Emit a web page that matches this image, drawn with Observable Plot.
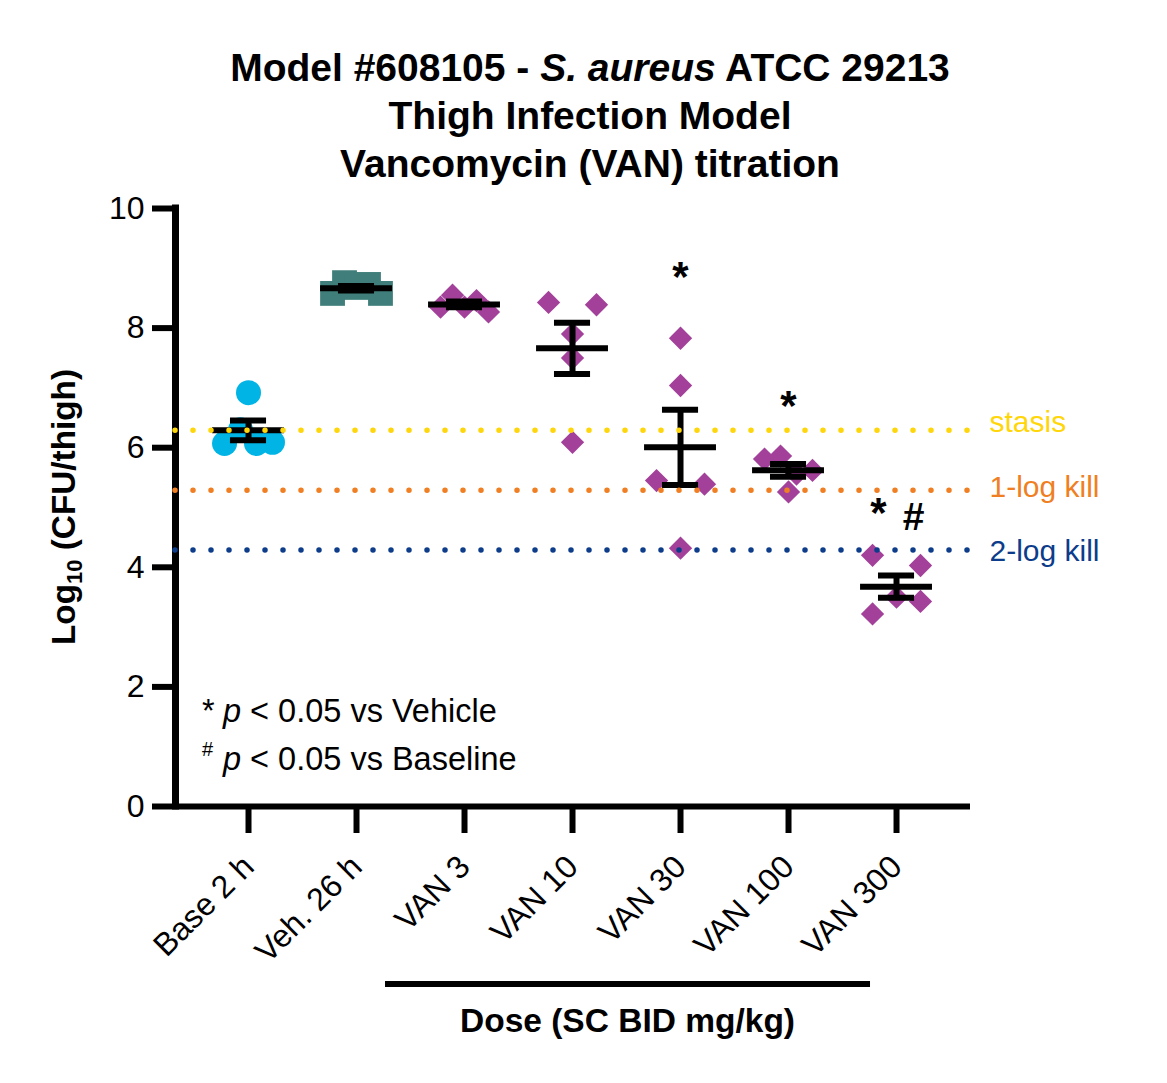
<!DOCTYPE html>
<html><head><meta charset="utf-8">
<script src="https://cdn.jsdelivr.net/npm/d3@7"></script>
<script src="https://cdn.jsdelivr.net/npm/@observablehq/plot@0.6"></script>
<style>body{margin:0;background:#fff} svg{display:block}</style>
</head><body><div id="chart"></div>
<script>
// ---- data ----
const groups = ["Base 2 h", "Veh. 26 h", "VAN 3", "VAN 10", "VAN 30", "VAN 100", "VAN 300"];
// individual values, listed in left-to-right order of appearance
const base2h = [6.07, 6.30, 6.07, 6.09, 6.92];
const veh26h = [8.58, 8.76, 8.68, 8.73, 8.58];
const van3   = [8.35, 8.55, 8.35, 8.46, 8.27];
const van10  = [8.43, 7.90, 7.50, 6.09, 8.39];
const van30  = [7.83, 7.04, 5.45, 5.39, 4.32];
const van100 = [5.81, 5.26, 5.86, 5.56, 5.62];
const van300 = [4.20, 3.22, 4.03, 3.50, 3.43];
const refValues = [6.29, 5.29, 4.29];
const refLabels = ["stasis", "1-log kill", "2-log kill"];
const starGroups = ["VAN 30", "VAN 100"];
const starY = [8.84, 6.69];
const starHashGroup = "VAN 300";
const starHashStarY = 4.90;
const starHashHashY = 4.84;
const yTicks = [0, 2, 4, 6, 8, 10];

// ---- styling ----
const series = [base2h, veh26h, van3, van10, van30, van100, van300];
const groupSymbol = ["circle", "square", "diamond2", "diamond2", "diamond2", "diamond2", "diamond2"];
const groupFill = ["#00B4E6", "#3F7E7A", "#A3419A", "#A3419A", "#A3419A", "#A3419A", "#A3419A"];
const groupR = [12.5, 14, 10.5, 10.5, 10.5, 10.5, 10.5];
const refColors = ["#FFD60A", "#EF7F22", "#0C3C8A"];
const refLabelDy = [-8, -3, 1];
const ROW_GAP = 0.25;      // values closer than this share a scatter row
const HALF_SPREAD = 0.222; // half-width of a scatter row, in category units

// scatter layout (GraphPad-like symmetric spreading of close values)
const points = [];
series.forEach((vals, gi) => {
  const idx = d3.range(vals.length).sort((a, b) => vals[a] - vals[b]);
  const rows = [];
  let cur = [idx[0]];
  for (let k = 1; k < idx.length; k++) {
    if (vals[idx[k]] - vals[idx[k - 1]] < ROW_GAP) cur.push(idx[k]);
    else { rows.push(cur); cur = [idx[k]]; }
  }
  rows.push(cur);
  rows.forEach(row => {
    row.sort((a, b) => a - b);
    const n = row.length;
    row.forEach((j, m) => {
      const off = n === 1 ? 0 : (m - (n - 1) / 2) * (2 * HALF_SPREAD / (n - 1));
      points.push({gi, x: gi + off, value: vals[j]});
    });
  });
});
const stats = series.map((vals, i) => ({
  i,
  mean: d3.mean(vals),
  sem: d3.deviation(vals) / Math.sqrt(vals.length)
}));

const xDomain = [-0.676, 6.685];
const groupDots = gi => Plot.dot(points.filter(d => d.gi === gi), {
  x: "x", y: "value", r: groupR[gi], symbol: groupSymbol[gi], fill: groupFill[gi], stroke: "none"
});

const chart = Plot.plot({
  width: 1167, height: 1083,
  marginLeft: 175, marginRight: 197, marginTop: 208, marginBottom: 277,
  style: {fontFamily: "'Liberation Sans', Arial, Helvetica, sans-serif", background: "#fff", overflow: "visible", color: "#000"},
  x: {domain: xDomain, axis: null},
  y: {domain: [0, 10], axis: null},
  color: {type: "identity"},
  marks: [
    Plot.axisY({ticks: yTicks, tickSize: 23, tickPadding: 8, fontSize: 32, strokeWidth: 6, tickFormat: d => String(d), label: null}),
    Plot.axisX({ticks: d3.range(groups.length), tickFormat: i => groups[i], tickRotate: -45, tickSize: 27, tickPadding: 28, fontSize: 32, strokeWidth: 6, label: null}),
    Plot.ruleY([0], {strokeWidth: 6, stroke: "#000"}),
    Plot.ruleX([xDomain[0]], {strokeWidth: 7, stroke: "#000", strokeLinecap: "square"}),
    ...d3.range(groups.length).map(groupDots),
    Plot.ruleY(stats, {y: "mean", x1: d => d.i - 0.333, x2: d => d.i + 0.333, stroke: "#000", strokeWidth: 6}),
    Plot.ruleY(stats, {y: d => d.mean + d.sem, x1: d => d.i - 0.167, x2: d => d.i + 0.167, stroke: "#000", strokeWidth: 6}),
    Plot.ruleY(stats, {y: d => d.mean - d.sem, x1: d => d.i - 0.167, x2: d => d.i + 0.167, stroke: "#000", strokeWidth: 6}),
    Plot.ruleX(stats, {x: "i", y1: d => d.mean - d.sem, y2: d => d.mean + d.sem, stroke: "#000", strokeWidth: 6}),
    Plot.ruleY(refValues, {y: d => d, stroke: (d, i) => refColors[i], strokeWidth: 5.5, strokeDasharray: "0 18", strokeLinecap: "round"}),
    ...refLabels.map((lab, i) => Plot.text([lab], {x: () => xDomain[1], y: () => refValues[i], text: d => d, fill: refColors[i], textAnchor: "start", dx: 19, dy: refLabelDy[i], fontSize: 30, lineAnchor: "middle"})),
    Plot.text(starGroups, {x: g => groups.indexOf(g), y: (g, i) => starY[i], text: () => "*", fontSize: 42, fontWeight: "bold", lineAnchor: "middle", fill: "#000"}),
    Plot.text([starHashGroup], {x: g => groups.indexOf(g), y: () => starHashStarY, text: () => "*", dx: -18, fontSize: 42, fontWeight: "bold", lineAnchor: "middle", fill: "#000"}),
    Plot.text([starHashGroup], {x: g => groups.indexOf(g), y: () => starHashHashY, text: () => "#", dx: 17, fontSize: 39, fontWeight: "bold", lineAnchor: "middle", fill: "#000"})
  ]
});
document.getElementById("chart").appendChild(chart);

// ---- rich-text labels (title, axis titles, footnotes) ----
const svg = d3.select(chart);
const xs = chart.scale("x"), ys = chart.scale("y");

const title = [
  [["Model #608105 - ", "normal"], ["S. aureus", "italic"], [" ATCC 29213", "normal"]],
  [["Thigh Infection Model", "normal"]],
  [["Vancomycin (VAN) titration", "normal"]]
];
const titleBase = [81, 129, 176.5];
title.forEach((parts, li) => {
  const t = svg.append("text").attr("x", 590).attr("y", titleBase[li])
    .attr("text-anchor", "middle").attr("font-size", 39).attr("font-weight", "bold")
    .style("white-space", "pre").attr("fill", "#000");
  parts.forEach(([s, st]) => t.append("tspan").attr("font-style", st).text(s));
});

// y axis title
const yl = svg.append("text").attr("transform", `translate(75,${(ys.range[0] + ys.range[1]) / 2}) rotate(-90)`)
  .attr("text-anchor", "middle").attr("font-size", 33.3).attr("font-weight", "bold").attr("fill", "#000").style("white-space", "pre");
yl.append("tspan").text("Log");
yl.append("tspan").attr("font-size", 22).attr("dy", 7).text("10");
yl.append("tspan").attr("dy", -7).text(" (CFU/thigh)");

// footnotes
const fx0 = xs.apply(xDomain[0]) + 27;
const f1 = svg.append("text").attr("x", fx0).attr("y", 722).attr("text-anchor", "start").attr("font-size", 32.5).attr("fill", "#000").style("white-space", "pre");
f1.append("tspan").text("*");
f1.append("tspan").attr("x", fx0 + 21).attr("font-style", "italic").text("p");
f1.append("tspan").text(" < 0.05 vs Vehicle");
const f2 = svg.append("text").attr("x", fx0).attr("y", 770).attr("text-anchor", "start").attr("font-size", 32.5).attr("fill", "#000").style("white-space", "pre");
f2.append("tspan").attr("font-size", 20).attr("dy", -14).text("#");
f2.append("tspan").attr("x", fx0 + 21).attr("dy", 14).attr("font-style", "italic").text("p");
f2.append("tspan").text(" < 0.05 vs Baseline");

// dose bracket
const bx1 = xs.apply(2) - 79, bx2 = xs.apply(6) - 26;
svg.append("line").attr("x1", bx1).attr("x2", bx2)
  .attr("y1", 984).attr("y2", 984).attr("stroke", "#000").attr("stroke-width", 6);
svg.append("text").attr("x", (bx1 + bx2) / 2).attr("y", 1032)
  .attr("text-anchor", "middle").attr("font-size", 33.5).attr("font-weight", "bold").attr("fill", "#000")
  .text("Dose (SC BID mg/kg)");
</script>
</body></html>
